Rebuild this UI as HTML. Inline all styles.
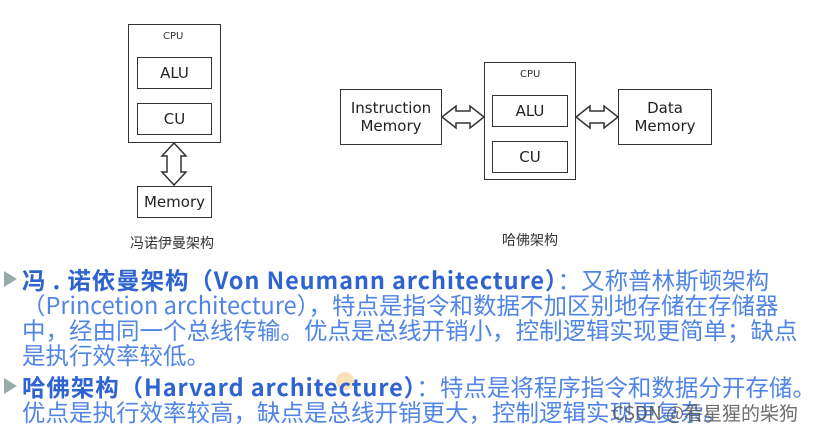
<!DOCTYPE html>
<html><head><meta charset="utf-8"><style>
body{margin:0;width:818px;height:433px;background:#fff;overflow:hidden;position:relative;font-family:"Liberation Sans","Noto Sans CJK SC",sans-serif}
.b{position:absolute;border:1.5px solid #333;box-sizing:border-box;display:flex;align-items:center;justify-content:center;text-align:center;color:#222;font-size:15px;line-height:18px;font-family:"DejaVu Sans","Noto Sans CJK SC",sans-serif}
.t{position:absolute;color:#333;font-size:10px;font-family:"DejaVu Sans",sans-serif}
.l{position:absolute;white-space:nowrap;font-size:23.5px;line-height:25px;color:#5085e6;font-family:"Noto Sans CJK SC",sans-serif}
.l b{color:#2e63d0;letter-spacing:0.9px}
.tri{position:absolute;left:4px;width:0;height:0;border-left:13px solid #9aa;border-top:8px solid transparent;border-bottom:8px solid transparent}
</style></head><body>
<div class="b" style="left:128px;top:24px;width:93px;height:119px"></div>
<div class="t" style="left:163px;top:31px">CPU</div>
<div class="b" style="left:137px;top:57px;width:75px;height:32px">ALU</div>
<div class="b" style="left:137px;top:103px;width:75px;height:32px">CU</div>
<div class="b" style="left:137px;top:186px;width:75px;height:32px">Memory</div>
<div class="b" style="left:340px;top:89px;width:102px;height:56px">Instruction<br>Memory</div>
<div class="b" style="left:484px;top:62px;width:92px;height:118px"></div>
<div class="t" style="left:520px;top:69px">CPU</div>
<div class="b" style="left:492px;top:95px;width:76px;height:32px">ALU</div>
<div class="b" style="left:492px;top:141px;width:76px;height:32px">CU</div>
<div class="b" style="left:618px;top:89px;width:94px;height:56px">Data<br>Memory</div>
<svg style="position:absolute;left:0;top:0" width="818" height="433">
<polygon points="174,143 186,156 181,156 181,172 186,172 174,185 162,172 167,172 167,156 162,156" fill="#fff" stroke="#333" stroke-width="1.5"/>
<polygon points="442,117 456,106 456,111 470,111 470,106 484,117 470,128 470,123 456,123 456,128" fill="#fff" stroke="#333" stroke-width="1.5"/>
<polygon points="576,117 590,106 590,111 604,111 604,106 618,117 604,128 604,123 590,123 590,128" fill="#fff" stroke="#333" stroke-width="1.5"/>
<circle cx="345" cy="381" r="9" fill="#f8d9a8" opacity="0.8"/>
</svg>
<div class="t" style="left:130px;top:233px;font-size:14px;font-family:'Noto Sans CJK SC',sans-serif">冯诺伊曼架构</div>
<div class="t" style="left:502px;top:230px;font-size:14px;font-family:'Noto Sans CJK SC',sans-serif">哈佛架构</div>
<div class="tri" style="top:271px"></div>
<div class="l" style="left:22px;top:267px"><b>冯 . 诺依曼架构（Von Neumann architecture）</b>：又称普林斯顿架构</div>
<div class="l" style="left:22px;top:292px">（Princetion architecture），特点是指令和数据不加区别地存储在存储器</div>
<div class="l" style="left:22px;top:317px">中，经由同一个总线传输。优点是总线开销小，控制逻辑实现更简单；缺点</div>
<div class="l" style="left:22px;top:342px">是执行效率较低。</div>
<div class="tri" style="top:378px"></div>
<div class="l" style="left:22px;top:374px"><b>哈佛架构（Harvard architecture）</b>：特点是将程序指令和数据分开存储。</div>
<div class="l" style="left:22px;top:399px">优点是执行效率较高，缺点是总线开销更大，控制逻辑实现更复杂。</div>
<div class="l" style="left:612px;top:400px;font-size:19px;color:#555;opacity:0.85">CSDN @看星猩的柴狗</div>
</body></html>
